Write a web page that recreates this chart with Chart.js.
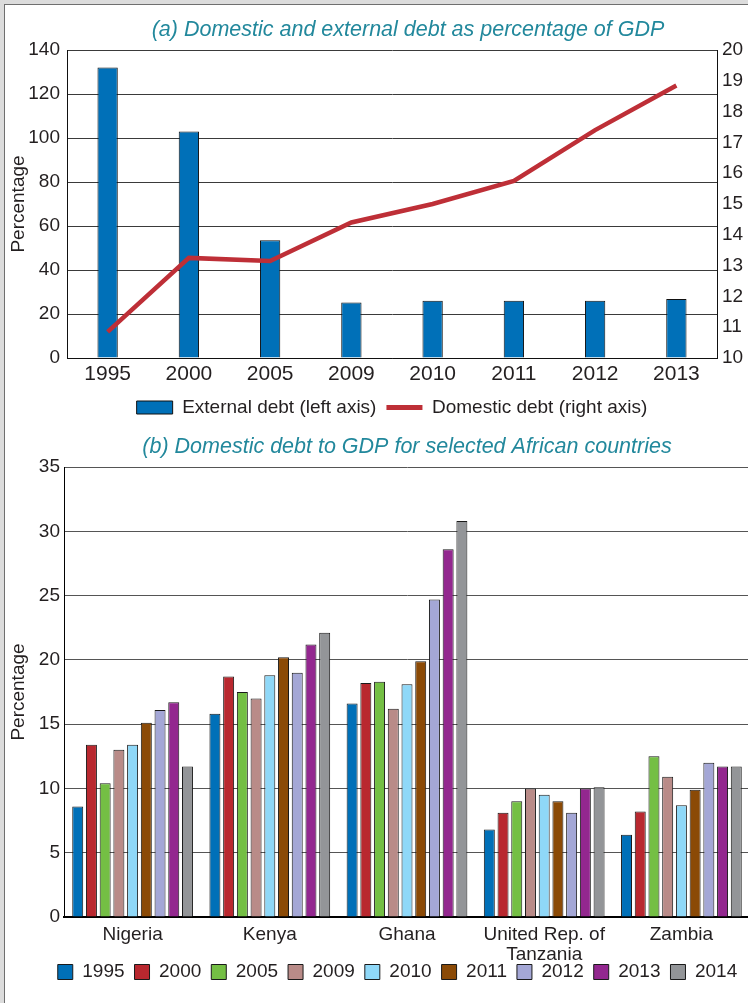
<!DOCTYPE html>
<html>
<head>
<meta charset="utf-8">
<title>Domestic and external debt</title>
<script src="https://cdn.jsdelivr.net/npm/chart.js@4.4.1/dist/chart.umd.min.js"></script>
<style>
  html, body { margin: 0; padding: 0; }
  body { background: #dcdcdc; width: 748px; height: 1003px; overflow: hidden; position: relative; }
  #page { position: absolute; left: 4px; top: 4px; width: 743px; height: 998px; background: #fff;
          border-left: 1px solid #6f6f6f; border-top: 1px solid #6f6f6f; overflow: hidden; }
  #topChart { position: absolute; left: 0; top: 0; }
  #bottomChart { position: absolute; left: 0; top: 420px; }
</style>
</head>
<body>
<div id="page">
  <canvas id="topChart" width="743" height="422"></canvas>
  <canvas id="bottomChart" width="760" height="583"></canvas>
</div>
<script>
// panel (a)
const years = ['1995', '2000', '2005', '2009', '2010', '2011', '2012', '2013'];
const externalDebt = [132, 103, 53.5, 25.2, 26, 26, 26, 26.8];
const domesticDebt = [10.85, 13.25, 13.15, 14.4, 15.0, 15.75, 17.4, 18.85];

// panel (b)
const countries = ['Nigeria', 'Kenya', 'Ghana', ['United Rep. of', 'Tanzania'], 'Zambia'];
const seriesYears = ['1995', '2000', '2005', '2009', '2010', '2011', '2012', '2013', '2014'];
const debt1995 = [8.6, 15.8, 16.6, 6.8, 6.4];
const debt2000 = [13.4, 18.7, 18.2, 8.1, 8.2];
const debt2005 = [10.4, 17.5, 18.3, 9.0, 12.5];
const debt2009 = [13.0, 17.0, 16.2, 10.0, 10.9];
const debt2010 = [13.4, 18.8, 18.1, 9.5, 8.7];
const debt2011 = [15.1, 20.2, 19.9, 9.0, 9.9];
const debt2012 = [16.1, 19.0, 24.7, 8.1, 12.0];
const debt2013 = [16.7, 21.2, 28.6, 10.0, 11.7];
const debt2014 = [11.7, 22.1, 30.8, 10.1, 11.7];
const seriesValues = [debt1995, debt2000, debt2005, debt2009, debt2010, debt2011, debt2012, debt2013, debt2014];
const seriesColors = ['#0070b8', '#b9282f', '#74bf44', '#b98b88', '#8fd8f8', '#8b4a06', '#a4a7d6', '#93278f', '#939598'];

Chart.defaults.font.family = "'Liberation Sans', Arial, sans-serif";
Chart.defaults.font.size = 19;
Chart.defaults.color = '#231f20';
Chart.defaults.animation = false;

const titleColor = '#22889c';

// small shifts of the title / legend boxes once layout is done
const nudge = {
  id: 'nudge',
  afterLayout(chart, args, opts) {
    const t = chart.titleBlock, l = chart.legend;
    if (t && opts.titleDx) { t.left += opts.titleDx; t.right += opts.titleDx; }
    if (l && opts.legendDx) { l.left += opts.legendDx; l.right += opts.legendDx; }
    if (l && opts.legendDy) { l.top += opts.legendDy; l.bottom += opts.legendDy; }
  }
};

new Chart(document.getElementById('topChart'), {
  type: 'bar',
  plugins: [nudge],
  data: {
    labels: years,
    datasets: [{
      label: 'External debt (left axis)',
      data: externalDebt,
      backgroundColor: '#0070b8',
      borderColor: '#111',
      borderWidth: 1,
      barPercentage: 0.25,
      categoryPercentage: 1,
      pointStyle: 'rect',
      yAxisID: 'y',
      order: 1
    }, {
      type: 'line',
      label: 'Domestic debt (right axis)',
      data: domesticDebt,
      borderColor: '#be2f37',
      backgroundColor: '#be2f37',
      borderWidth: 4.5,
      pointRadius: 0,
      pointBorderWidth: 5,
      pointStyle: 'line',
      tension: 0,
      yAxisID: 'y1',
      order: 0
    }]
  },
  options: {
    responsive: false,
    layout: { padding: 0 },
    plugins: {
      nudge: { titleDx: 16 },
      title: {
        display: true,
        text: '(a) Domestic and external debt as percentage of GDP',
        color: titleColor,
        font: { size: 21.5, style: 'italic', weight: 'normal' },
        padding: { top: 12, bottom: 7.2 },
        fullSize: false
      },
      legend: {
        position: 'bottom',
        fullSize: false,
        labels: {
          usePointStyle: true,
          pointStyleWidth: 36,
          boxWidth: 36,
          boxHeight: 13,
          padding: 10,
          sort: (a, b) => a.datasetIndex - b.datasetIndex
        }
      },
      tooltip: { enabled: false }
    },
    scales: {
      x: {
        grid: { display: false, drawTicks: false },
        border: { color: '#111', width: 1 },
        ticks: { padding: 4, font: { size: 21 } },
        afterFit: (s) => { s.height = 30; }
      },
      y: {
        position: 'left',
        min: 0, max: 140,
        ticks: { stepSize: 20, padding: 7 },
        grid: { color: '#3a3a3a', drawTicks: false },
        border: { color: '#111' },
        title: { display: true, text: 'Percentage', padding: { top: 2, bottom: 0 } },
        afterFit: (s) => { s.width = 62; }
      },
      y1: {
        position: 'right',
        min: 10, max: 20,
        ticks: { stepSize: 1, padding: 5 },
        grid: { display: false, drawTicks: false },
        border: { color: '#111' },
        afterFit: (s) => { s.width = 31; }
      }
    }
  }
});

new Chart(document.getElementById('bottomChart'), {
  type: 'bar',
  plugins: [nudge],
  data: {
    labels: countries,
    datasets: seriesYears.map((yr, i) => ({
      label: yr,
      data: seriesValues[i],
      backgroundColor: seriesColors[i],
      borderColor: '#1a1a1a',
      borderWidth: 1,
      barPercentage: 0.8,
      categoryPercentage: 0.9
    }))
  },
  options: {
    responsive: false,
    layout: { padding: { left: 0, right: 15, top: 0, bottom: 0 } },
    plugins: {
      nudge: { legendDx: 20, legendDy: -16.5 },
      title: {
        display: true,
        text: '(b) Domestic debt to GDP for selected African countries',
        color: titleColor,
        font: { size: 21.5, style: 'italic', weight: 'normal' },
        padding: { top: 9, bottom: 7.2 },
        fullSize: false
      },
      legend: {
        position: 'bottom',
        fullSize: true,
        labels: { boxWidth: 15, boxHeight: 15, padding: 10 }
      },
      tooltip: { enabled: false }
    },
    scales: {
      x: {
        grid: { display: false, drawTicks: false },
        border: { color: '#000', width: 2 },
        ticks: { padding: 8, font: { lineHeight: 1.05 } },
        afterFit: (s) => { s.height = 52; }
      },
      y: {
        min: 0, max: 35,
        ticks: { stepSize: 5, padding: 4 },
        grid: { color: '#555', drawTicks: false },
        border: { color: '#000' },
        title: { display: true, text: 'Percentage', padding: { top: 2, bottom: 0 } },
        afterFit: (s) => { s.width = 59; }
      }
    }
  }
});
</script>
</body>
</html>
